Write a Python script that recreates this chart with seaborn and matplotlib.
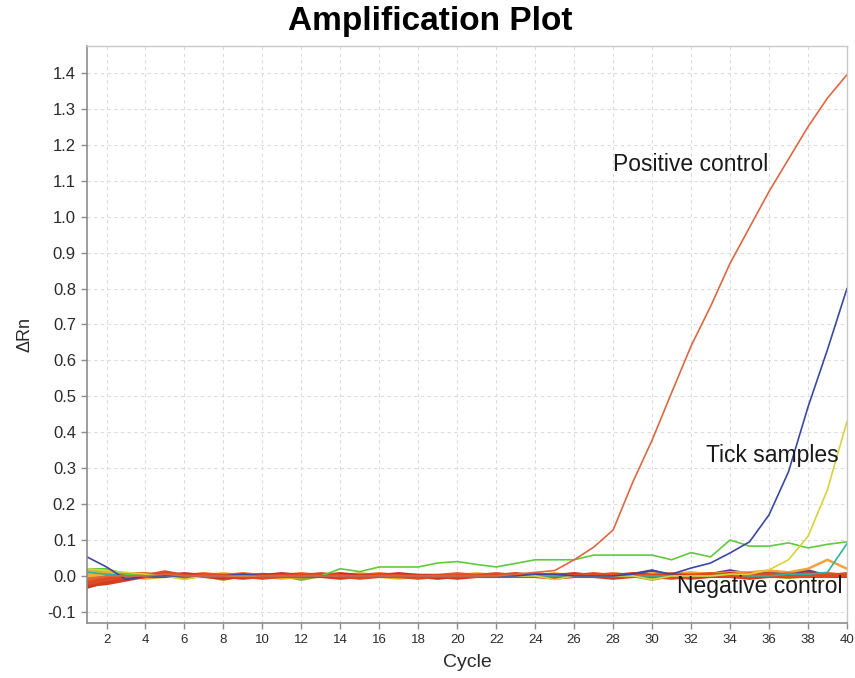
import matplotlib
matplotlib.use("Agg")
import matplotlib.pyplot as plt
import seaborn as sns
import pandas as pd

cycles = list(range(1, 41))

positive_control = [-0.01, 0.0, 0.0, 0.0, 0.005, 0.0, 0.0, 0.0, 0.0, 0.0,
                    0.0, 0.0, 0.0, 0.0, 0.0, 0.0, 0.0, 0.0, 0.0, 0.0,
                    0.0, 0.0, 0.005, 0.01, 0.015, 0.045, 0.08, 0.128, 0.26, 0.378,
                    0.51, 0.64, 0.75, 0.87, 0.97, 1.07, 1.16, 1.25, 1.33, 1.395]

tick_blue = [0.053, 0.025, -0.01, 0.0, 0.0, 0.0, 0.0, 0.0, 0.005, 0.0,
             0.0, 0.0, 0.0, 0.0, 0.0, 0.0, 0.0, 0.0, 0.0, 0.0,
             0.0, 0.0, 0.0, 0.005, 0.005, 0.0, 0.0, 0.0, 0.005, 0.015,
             0.005, 0.022, 0.036, 0.064, 0.095, 0.17, 0.29, 0.47, 0.63, 0.80]

tick_yellow = [0.02, 0.015, 0.01, 0.005, 0.0, -0.01, 0.0, 0.0, 0.0, 0.0,
               0.0, 0.0, 0.0, 0.0, 0.0, 0.0, 0.0, 0.0, 0.0, 0.0,
               0.0, 0.0, 0.0, 0.0, -0.01, 0.0, 0.0, 0.0, 0.0, -0.01,
               0.0, 0.0, 0.0, 0.005, 0.005, 0.017, 0.045, 0.11, 0.24, 0.43]

green = [0.02, 0.02, 0.005, 0.0, 0.0, 0.0, 0.0, 0.0, 0.0, 0.0,
         0.0, 0.0, 0.0, 0.02, 0.012, 0.025, 0.025, 0.025, 0.036, 0.04,
         0.032, 0.025, 0.035, 0.045, 0.045, 0.045, 0.058, 0.058, 0.058, 0.058,
         0.045, 0.065, 0.053, 0.1, 0.083, 0.083, 0.092, 0.078, 0.088, 0.095]

teal = [0.01, 0.005, 0.0, 0.0, 0.0, 0.0, 0.0, 0.0, 0.0, 0.0,
        0.0, 0.0, 0.0, 0.0, 0.0, 0.0, 0.0, 0.0, 0.0, 0.0,
        0.0, 0.0, 0.0, 0.0, 0.0, 0.0, 0.0, 0.0, 0.0, 0.0,
        0.0, 0.0, 0.0, 0.005, 0.0, 0.0, 0.005, 0.005, 0.01, 0.09]

orange_bump = [0.015, 0.01, 0.005, 0.0, 0.005, 0.0, 0.0, 0.0, 0.0, 0.0,
               0.0, 0.005, 0.0, 0.0, 0.0, 0.0, 0.0, 0.0, 0.0, 0.0,
               0.0, 0.0, 0.0, 0.0, 0.0, 0.0, 0.0, 0.0, 0.0, 0.0,
               0.005, 0.01, 0.005, 0.01, 0.01, 0.015, 0.01, 0.02, 0.045, 0.02]

neg_1 = [-0.02, -0.01, 0.0, 0.0, 0.01, 0.0, 0.0, 0.0, 0.0, -0.005,
         0.0, 0.0, 0.005, 0.0, -0.005, 0.0, 0.0, -0.005, 0.0, 0.0,
         0.0, 0.005, 0.0, 0.0, 0.0, 0.0, 0.005, 0.0, 0.0, 0.0,
         -0.005, 0.0, 0.005, 0.0, 0.0, 0.005, 0.0, 0.0, 0.0, 0.005]
neg_2 = [-0.03, -0.015, -0.005, 0.0, 0.0, 0.005, 0.0, -0.005, 0.0, 0.0,
         0.005, 0.0, 0.0, 0.005, 0.0, 0.0, 0.005, 0.0, -0.005, 0.0,
         0.0, 0.0, 0.005, 0.0, 0.0, 0.005, 0.0, 0.0, 0.005, 0.0,
         0.0, 0.0, 0.0, 0.005, 0.0, 0.0, 0.0, 0.005, 0.0, 0.0]
neg_3 = [-0.01, -0.005, 0.005, 0.005, 0.0, 0.0, 0.005, 0.0, 0.005, 0.0,
         0.0, 0.005, 0.0, 0.0, 0.0, 0.005, 0.0, 0.0, 0.0, 0.005,
         0.0, 0.0, 0.0, 0.005, 0.0, 0.0, 0.0, 0.005, 0.0, 0.0,
         0.005, 0.0, 0.0, 0.0, 0.005, 0.0, 0.005, 0.0, 0.005, 0.0]
neg_4 = [0.0, 0.005, 0.0, -0.005, 0.0, 0.0, 0.0, 0.005, 0.0, 0.0,
         -0.005, 0.0, 0.0, 0.0, 0.005, 0.0, -0.005, 0.0, 0.0, 0.0,
         0.005, 0.0, 0.0, 0.0, 0.005, 0.0, 0.0, 0.0, 0.0, 0.005,
         0.0, 0.0, 0.005, 0.0, 0.0, 0.0, 0.0, 0.0, 0.005, 0.0]
neg_5 = [-0.025, -0.02, -0.01, 0.0, 0.005, 0.0, 0.0, 0.0, -0.005, 0.0,
         0.0, 0.0, 0.0, -0.005, 0.0, 0.0, 0.0, 0.0, 0.0, -0.005,
         0.0, 0.0, 0.0, 0.0, -0.005, 0.0, 0.0, -0.005, 0.0, 0.0,
         0.0, -0.005, 0.0, 0.0, -0.005, 0.0, 0.0, 0.0, 0.0, 0.0]
neg_purple = [0.0, 0.0, 0.0, 0.0, 0.0, 0.0, 0.0, 0.005, 0.0, 0.005,
              0.0, 0.0, 0.0, 0.0, 0.0, 0.0, 0.0, 0.0, 0.0, 0.0,
              0.0, 0.0, 0.0, 0.005, 0.0, 0.0, 0.0, 0.0, 0.005, 0.015,
              0.0, 0.005, 0.005, 0.015, 0.005, 0.01, 0.005, 0.015, 0.0, 0.005]
neg_olive = [0.01, 0.015, 0.005, 0.0, 0.0, -0.005, 0.0, -0.01, 0.0, 0.0,
             0.0, -0.01, 0.0, 0.0, -0.005, 0.0, 0.0, 0.0, 0.0, -0.005,
             0.0, 0.0, 0.0, 0.0, 0.0, 0.0, 0.0, 0.0, 0.0, -0.01,
             0.0, 0.0, 0.0, 0.0, -0.005, 0.0, -0.005, 0.0, 0.0, 0.0]

series = {
    "neg olive": (neg_olive, "#9aa531", 2.0),
    "neg purple": (neg_purple, "#6a3f8f", 2.0),
    "orange bump": (orange_bump, "#f2a23a", 1.8),
    "neg 4": (neg_4, "#f0b030", 3.0),
    "neg 3": (neg_3, "#e8622a", 3.0),
    "neg 2": (neg_2, "#c8301e", 3.0),
    "neg 5": (neg_5, "#d83a22", 3.0),
    "neg 1": (neg_1, "#e04a20", 3.0),
    "teal": (teal, "#2bb5a0", 1.2),
    "green": (green, "#5ecb3a", 1.2),
    "tick yellow": (tick_yellow, "#d6d33c", 1.2),
    "tick blue": (tick_blue, "#3a48a5", 1.2),
    "positive control": (positive_control, "#dc6842", 1.2),
}

sns.set_theme(style="white")
plt.rcParams["font.family"] = ["Liberation Sans", "DejaVu Sans"]

fig = plt.figure(figsize=(8.55, 6.78), dpi=100)
ax = fig.add_axes([0.1018, 0.0811, 0.8888, 0.8511])

for name, (vals, color, lw) in series.items():
    df = pd.DataFrame({"Cycle": cycles, "dRn": vals})
    sns.lineplot(data=df, x="Cycle", y="dRn", color=color, linewidth=lw, ax=ax)

ax.set_xlim(1, 40)
ax.set_ylim(-0.131, 1.475)
ax.set_xticks(range(2, 41, 2))
ax.set_yticks([round(-0.1 + 0.1 * i, 1) for i in range(16)])
ax.set_yticklabels([f"{-0.1 + 0.1 * i:.1f}" for i in range(16)])
ax.grid(True, color="#dcdcdc", linestyle=(0, (3, 3)), linewidth=0.8)
ax.set_axisbelow(True)

for side in ["left", "bottom"]:
    ax.spines[side].set_color("#8c8c8c")
    ax.spines[side].set_linewidth(1.2)
for side in ["top", "right"]:
    ax.spines[side].set_color("#c8c8c8")
    ax.spines[side].set_linewidth(1.0)

ax.tick_params(axis="y", left=True, length=4, width=1, color="#8c8c8c",
               labelsize=12, labelcolor="#2a2a2a", pad=4)
ax.tick_params(axis="x", bottom=True, length=4, width=1, color="#8c8c8c",
               labelsize=9.5, labelcolor="#2a2a2a", pad=4)

ax.set_xlabel("Cycle", fontsize=14, color="#2a2a2a", labelpad=6)
ax.set_ylabel("ΔRn", fontsize=13, color="#2a2a2a", labelpad=10)

ax.text(28.0, 1.144, "Positive control", fontsize=16.5, color="#1a1a1a", va="center")
ax.text(32.77, 0.334, "Tick samples", fontsize=16.5, color="#1a1a1a", va="center")
ax.text(31.3, -0.028, "Negative control", fontsize=16.5, color="#1a1a1a", va="center")

fig.text(0.503, 0.968, "Amplification Plot", fontsize=24, fontweight="bold",
         ha="center", va="center", color="#000000")

fig.savefig("out.png", dpi=100)
